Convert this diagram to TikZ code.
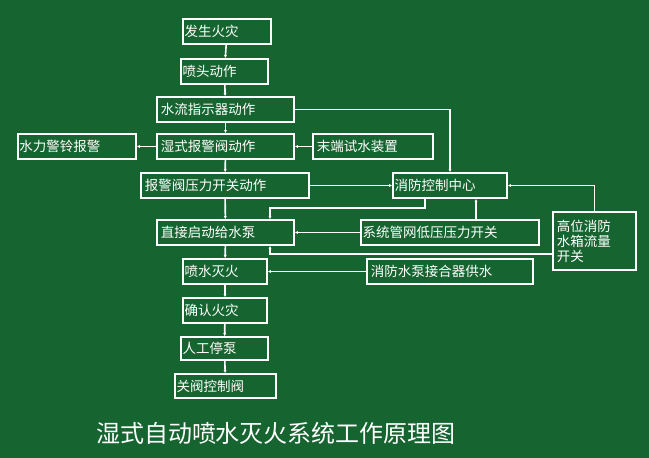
\documentclass[tikz,border=0pt]{standalone}
\usepackage{fontspec}
\setmainfont{Noto Sans CJK SC}
\usetikzlibrary{arrows.meta}
\definecolor{bggreen}{RGB}{22,101,48}

\begin{document}
\begin{tikzpicture}[x=1pt, y=-1pt, every node/.style={font=\fontsize{13.5}{15}\selectfont, text=white},
  box/.style={draw=white, line width=1.6pt, minimum height=25pt, inner sep=1.5pt, align=left},
  link/.style={draw=white, line width=1.6pt, -{Latex[length=3pt,width=3pt]}}]
  \fill[bggreen] (0,0) rectangle (649,458);
  \useasboundingbox (0,0) rectangle (649,458);
  % main column
  \node[box, text width=85pt] (fire) at (227,31.5) {发生火灾};
  \node[box, text width=84pt] (head) at (224.5,71.5) {喷头动作};
  \node[box, text width=134pt] (flow) at (225.5,109.5) {\,水流指示器动作};
  \node[box, text width=134pt] (valve) at (225.5,146.5) {\,湿式报警阀动作};
  \node[box, text width=165pt] (press) at (225,185.5) {\,报警阀压力开关动作};
  \node[box, text width=134pt] (pump) at (225.5,232.5) {\,直接启动给水泵};
  \node[box, text width=81pt] (spray) at (225,271.5) {喷水灭火};
  \node[box, text width=81pt] (confirm) at (225,310.5) {确认火灾};
  \node[box, text width=84pt, minimum height=23pt] (stop) at (224.5,348.5) {人工停泵};
  \node[box, text width=98pt, minimum height=24pt] (close) at (225.5,386) {关阀控制阀};
  % side boxes
  \node[box, text width=115pt] (bell) at (77,146.5) {水力警铃报警};
  \node[box, text width=117pt] (test) at (373,146.5) {\,末端试水装置};
  \node[box, text width=111pt] (center) at (450,185.5) {消防控制中心};
  \node[box, text width=175pt] (low) at (450,232.5) {系统管网低压压力开关};
  \node[box, text width=163pt] (adapter) at (450,271.5) {\,消防水泵接合器供水};
  \node[box, text width=80pt, minimum height=58pt, align=left] (tank) at (594.5,241) {\,高位消防\\\,水箱流量\\\,开关};

  \foreach \a/\b in {fire/head, head/flow, flow/valve, valve/press, press/pump, pump/spray,
    spray/confirm, confirm/stop, stop/close}
    \draw[link] (\a) -- (\b);

  \draw[link] (valve) -- (bell);
  \draw[link] (test) -- (valve);
  \draw[link] (press) -- (center);
  \draw[link] (low) -- (pump);
  \draw[link] (adapter) -- (spray);
  \draw[link] (flow.east) -| (center.north);
  \draw[link] (low.north -| 476,0) -- (center.south -| 476,0);
  \draw[link] (tank.north) |- (center.east);
  \draw[link] (center.south -| 425,0) -- (425,208) -| (pump.north -| 270,0);
  \draw[link] (tank.west |- 0,254) -| (pump.south -| 270,0);

  \node[font=\fontsize{24}{28}\selectfont] (title) at (276,433) {湿式自动喷水灭火系统工作原理图};
\end{tikzpicture}
\end{document}
